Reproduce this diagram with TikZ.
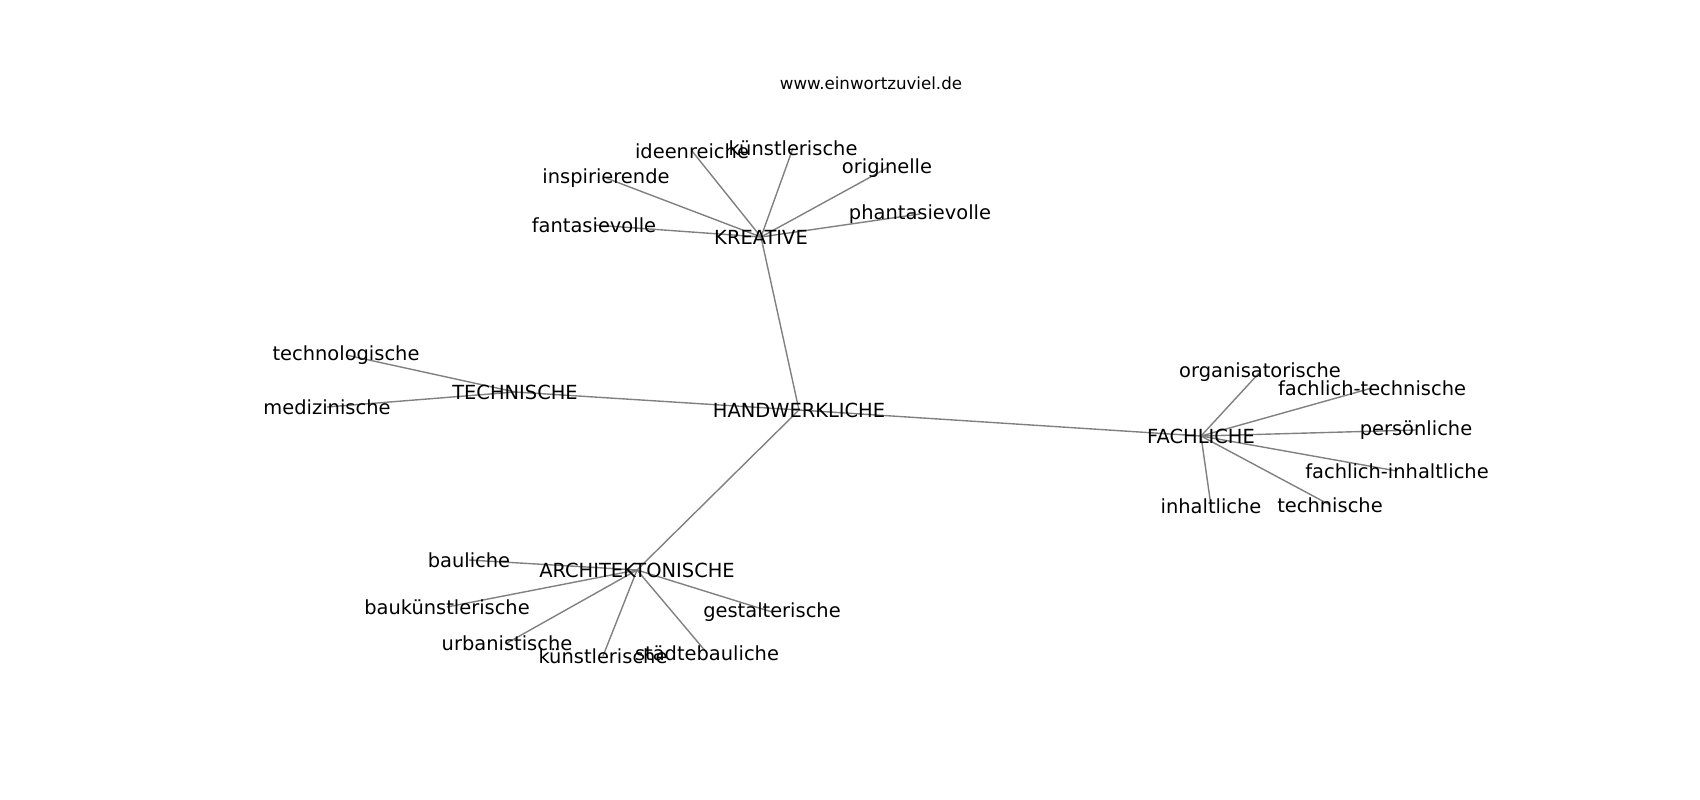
\documentclass[tikz,border=0pt]{standalone}
\usepackage{fontspec}
\setmainfont{DejaVu Sans}
\usetikzlibrary{backgrounds}
\begin{document}
\begin{tikzpicture}[x=1pt,y=-1pt,
  lbl/.style={inner sep=0pt, font=\fontsize{19.44}{23}\selectfont, text=black},
  ttl/.style={inner sep=0pt, font=\fontsize{16.67}{20}\selectfont, text=black},
  edge/.style={draw=gray, line width=1.39pt}]
\useasboundingbox (0,0) rectangle (1700,800);
\node[ttl] (title) at (871,83) {www.einwortzuviel.de};
% hub
\node[lbl] (hand) at (799,410) {HANDWERKLICHE};
% KREATIVE cluster
\node[lbl] (krea) at (761,237) {KREATIVE};
\node[lbl] (ideen) at (692,151) {ideenreiche};
\node[lbl] (kuenst) at (793,148) {künstlerische};
\node[lbl] (inspi) at (606,178) {inspirierende};
\node[lbl] (orig) at (887,168) {originelle};
\node[lbl] (fanta) at (594,225) {fantasievolle};
\node[lbl] (phanta) at (920,214) {phantasievolle};
% TECHNISCHE cluster
\node[lbl] (tech) at (515,392) {TECHNISCHE};
\node[lbl] (techno) at (346,355) {technologische};
\node[lbl] (medi) at (327,407) {medizinische};
% FACHLICHE cluster
\node[lbl] (fach) at (1201,436) {FACHLICHE};
\node[lbl] (orga) at (1260,372) {organisatorische};
\node[lbl] (fachtech) at (1372,388) {fachlich-technische};
\node[lbl] (pers) at (1416,430) {persönliche};
\node[lbl] (fachinh) at (1397,471) {fachlich-inhaltliche};
\node[lbl] (inh) at (1211,506) {inhaltliche};
\node[lbl] (techn) at (1330,505) {technische};
% ARCHITEKTONISCHE cluster
\node[lbl] (arch) at (637,570) {ARCHITEKTONISCHE};
\node[lbl] (baul) at (469,560) {bauliche};
\node[lbl] (baukuen) at (447,607) {baukünstlerische};
\node[lbl] (gest) at (772,612) {gestalterische};
\node[lbl] (urban) at (507,643) {urbanistische};
\node[lbl] (kuenst2) at (603,656) {künstlerische};
\node[lbl] (staedt) at (707,653) {städtebauliche};
\begin{scope}[on background layer]
\fill[white] (0,0) rectangle (1700,800);
\draw[edge] (hand.center) -- (krea.center);
\draw[edge] (hand.center) -- (tech.center);
\draw[edge] (hand.center) -- (fach.center);
\draw[edge] (hand.center) -- (arch.center);
\foreach \n in {ideen,kuenst,inspi,orig,fanta,phanta}
  \draw[edge] (krea.center) -- (\n.center);
\foreach \n in {techno,medi}
  \draw[edge] (tech.center) -- (\n.center);
\foreach \n in {orga,fachtech,pers,fachinh,inh,techn}
  \draw[edge] (fach.center) -- (\n.center);
\foreach \n in {baul,baukuen,gest,urban,kuenst2,staedt}
  \draw[edge] (arch.center) -- (\n.center);
\end{scope}
\end{tikzpicture}
\end{document}
